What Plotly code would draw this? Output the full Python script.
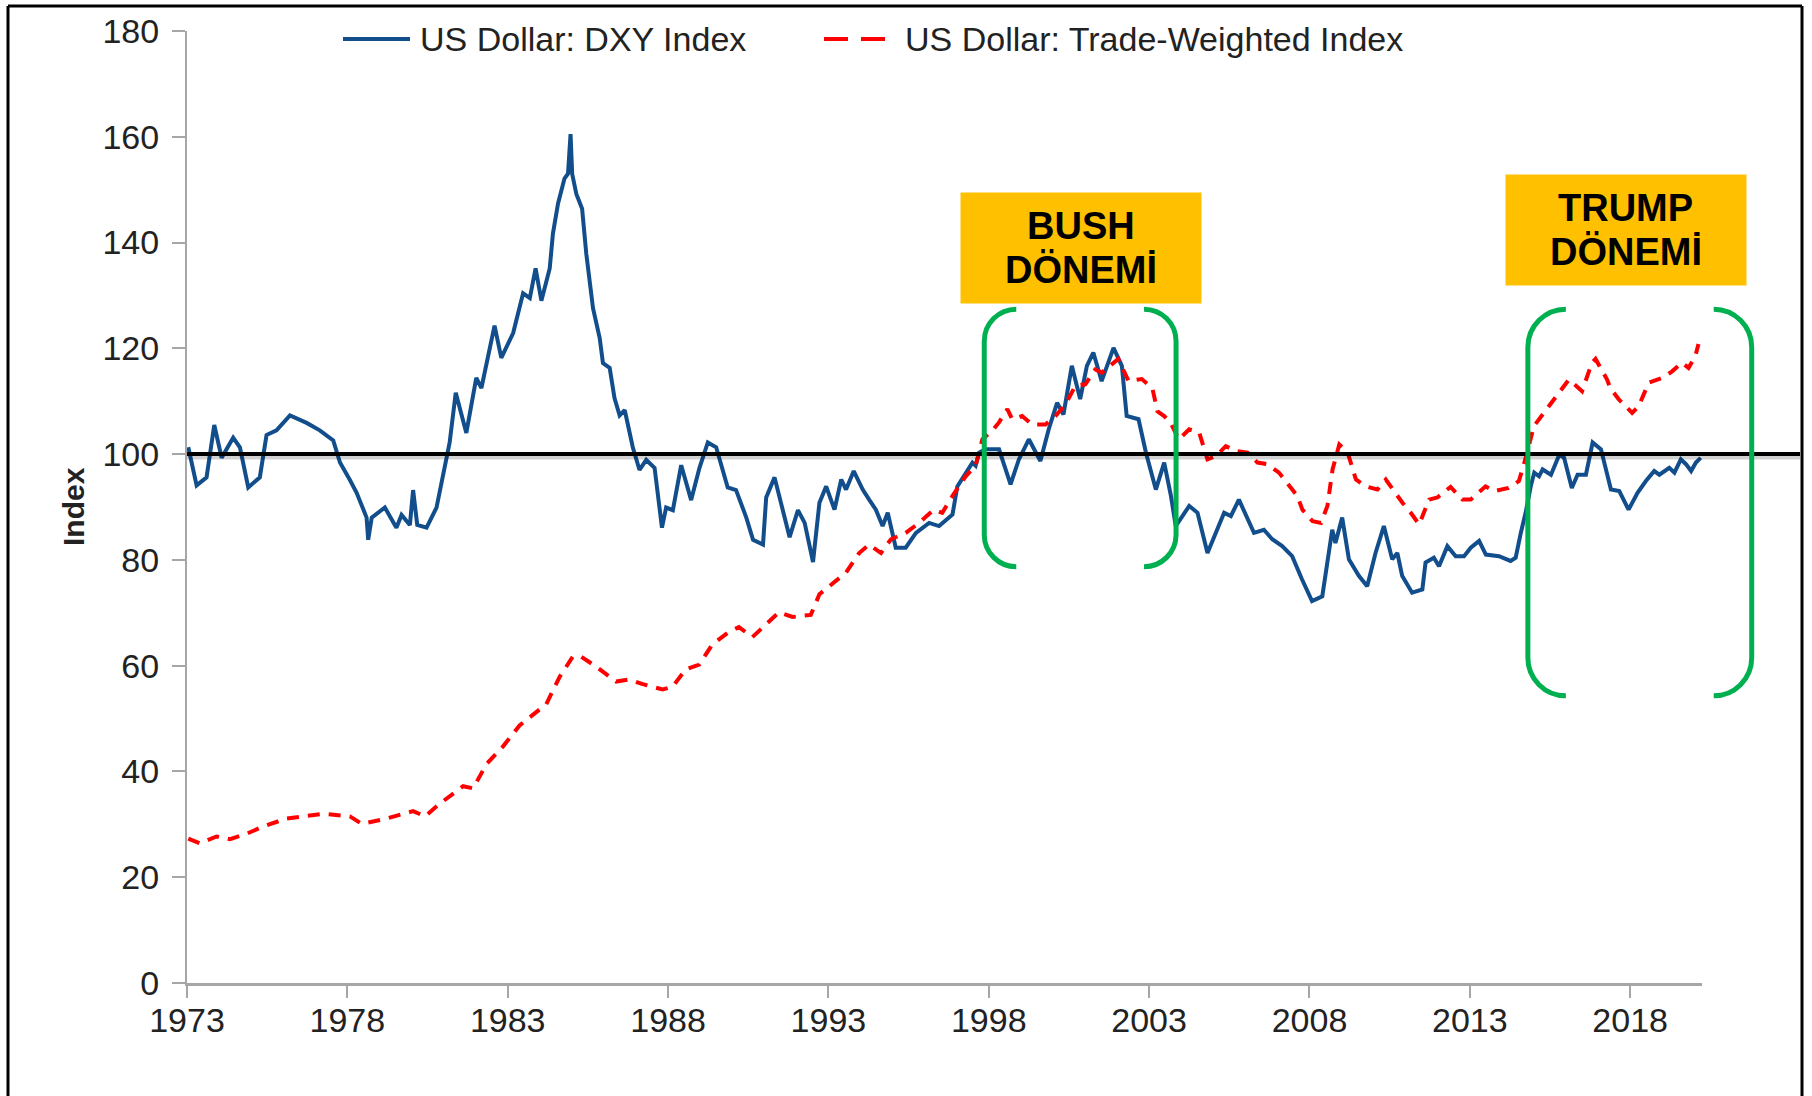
import plotly.graph_objects as go

# ---------------- data ----------------
dxy_years = [
    1973.04, 1973.30, 1973.61, 1973.85, 1974.08, 1974.44, 1974.65, 1974.91, 1975.27, 1975.48,
    1975.79, 1976.21, 1976.73, 1977.14, 1977.56, 1977.77, 1978.08, 1978.29, 1978.60, 1978.65,
    1978.76, 1979.17, 1979.53, 1979.69, 1979.95, 1980.05, 1980.18, 1980.47, 1980.78, 1981.04,
    1981.19, 1981.38, 1981.71, 1982.02, 1982.18, 1982.59, 1982.80, 1983.17, 1983.48, 1983.69,
    1983.87, 1984.05, 1984.31, 1984.41, 1984.57, 1984.77, 1984.88, 1984.96, 1985.01, 1985.14,
    1985.32, 1985.45, 1985.66, 1985.87, 1985.97, 1986.18, 1986.33, 1986.49, 1986.65, 1986.90,
    1987.11, 1987.32, 1987.58, 1987.81, 1987.94, 1988.15, 1988.41, 1988.72, 1988.98, 1989.24,
    1989.50, 1989.86, 1990.12, 1990.44, 1990.65, 1990.96, 1991.06, 1991.32, 1991.53, 1991.79,
    1992.05, 1992.26, 1992.52, 1992.72, 1992.93, 1993.19, 1993.40, 1993.55, 1993.79, 1994.07,
    1994.27, 1994.48, 1994.69, 1994.85, 1995.10, 1995.41, 1995.73, 1996.14, 1996.45, 1996.87,
    1997.02, 1997.28, 1997.49, 1997.59, 1997.70, 1997.90, 1998.32, 1998.68, 1998.94, 1999.25,
    1999.61, 1999.87, 2000.13, 2000.33, 2000.59, 2000.85, 2001.06, 2001.26, 2001.52, 2001.89,
    2002.15, 2002.30, 2002.67, 2002.90, 2003.21, 2003.47, 2003.68, 2003.83, 2004.25, 2004.51,
    2004.82, 2005.34, 2005.55, 2005.80, 2006.27, 2006.58, 2006.84, 2007.15, 2007.46, 2007.77,
    2008.08, 2008.40, 2008.71, 2008.81, 2009.02, 2009.23, 2009.54, 2009.80, 2010.06, 2010.32,
    2010.58, 2010.74, 2010.89, 2011.20, 2011.52, 2011.62, 2011.88, 2012.04, 2012.30, 2012.56,
    2012.82, 2013.03, 2013.29, 2013.50, 2013.91, 2014.27, 2014.43, 2014.59, 2014.74, 2014.90,
    2015.01, 2015.16, 2015.27, 2015.53, 2015.79, 2015.94, 2016.18, 2016.36, 2016.62, 2016.83,
    2017.09, 2017.40, 2017.66, 2017.95, 2018.23, 2018.49, 2018.75, 2018.91, 2019.22, 2019.38,
    2019.58, 2019.74, 2019.90, 2020.05, 2020.20,
]
dxy_values = [
    101.3, 94.1, 95.6, 105.5, 99.3, 103.1, 101.3, 93.7, 95.6, 103.6,
    104.5, 107.3, 105.9, 104.5, 102.6, 98.4, 95.1, 92.7, 88.0, 83.8,
    88.0, 89.9, 86.1, 88.5, 86.6, 93.2, 86.6, 86.1, 89.9, 97.5,
    102.2, 111.6, 104.0, 114.4, 112.5, 124.3, 118.2, 122.9, 130.4, 129.5,
    135.1, 129.0, 135.1, 141.7, 147.4, 152.1, 153.0, 160.5, 153.0, 149.2,
    146.4, 137.9, 127.6, 121.9, 117.2, 116.3, 110.6, 107.3, 108.3, 101.3,
    97.0, 98.9, 97.4, 86.1, 89.9, 89.4, 97.9, 91.3, 97.4, 102.2,
    101.3, 93.7, 93.2, 88.0, 83.8, 82.9, 91.8, 95.6, 90.8, 84.3,
    89.4, 87.0, 79.6, 90.8, 93.9, 89.5, 95.2, 93.3, 96.8, 93.3,
    91.4, 89.5, 86.4, 88.9, 82.3, 82.3, 85.1, 87.0, 86.4, 88.6,
    93.9, 96.5, 98.4, 97.8, 100.3, 100.9, 100.9, 94.3, 99.0, 102.8,
    98.7, 104.7, 109.7, 107.5, 116.7, 110.4, 116.7, 119.2, 113.8, 120.1,
    116.7, 107.2, 106.6, 100.3, 93.3, 98.4, 92.1, 86.4, 90.2, 88.9,
    81.3, 88.9, 88.3, 91.4, 85.1, 85.7, 83.9, 82.6, 80.7, 76.3,
    72.2, 73.1, 85.7, 83.2, 88.0, 80.1, 77.0, 75.0, 81.3, 86.4,
    80.1, 81.3, 77.0, 73.8, 74.4, 79.5, 80.4, 78.8, 82.6, 80.7,
    80.7, 82.3, 83.6, 81.0, 80.7, 79.8, 80.4, 85.1, 88.9, 93.9,
    96.5, 95.8, 97.1, 96.1, 99.9, 99.3, 93.6, 96.1, 96.1, 102.2,
    100.9, 93.3, 93.0, 89.5, 92.7, 94.9, 96.8, 96.1, 97.4, 96.5,
    99.0, 98.1, 96.8, 98.4, 99.3,
]

twi_years = [
    1973.04, 1973.40, 1973.92, 1974.34, 1974.85, 1975.38, 1976.10, 1977.25, 1978.08, 1978.45,
    1979.23, 1980.05, 1980.42, 1980.88, 1981.61, 1981.92, 1982.34, 1982.85, 1983.37, 1983.79,
    1984.20, 1984.62, 1985.03, 1985.29, 1985.76, 1986.38, 1986.79, 1987.21, 1987.83, 1988.14,
    1988.55, 1988.97, 1989.38, 1989.90, 1990.21, 1990.63, 1991.05, 1991.46, 1991.88, 1992.45,
    1992.72, 1993.14, 1993.55, 1993.96, 1994.27, 1994.64, 1994.95, 1995.41, 1995.83, 1996.29,
    1996.55, 1996.87, 1997.28, 1997.59, 1997.80, 1998.11, 1998.32, 1998.58, 1998.73, 1999.04,
    1999.35, 1999.77, 2000.08, 2000.39, 2000.70, 2001.01, 2001.32, 2001.52, 2001.84, 2002.04,
    2002.36, 2002.77, 2003.10, 2003.26, 2003.47, 2003.67, 2003.93, 2004.25, 2004.56, 2004.82,
    2005.08, 2005.39, 2005.70, 2006.07, 2006.38, 2006.69, 2007.05, 2007.31, 2007.62, 2007.78,
    2008.10, 2008.36, 2008.56, 2008.72, 2008.93, 2009.19, 2009.45, 2009.76, 2010.12, 2010.38,
    2010.59, 2010.90, 2011.16, 2011.42, 2011.73, 2011.99, 2012.40, 2012.77, 2013.03, 2013.49,
    2013.75, 2014.21, 2014.53, 2014.73, 2015.00, 2015.31, 2015.57, 2015.88, 2016.09, 2016.50,
    2016.81, 2016.92, 2017.28, 2017.38, 2017.64, 2018.06, 2018.26, 2018.58, 2018.99, 2019.30,
    2019.61, 2019.82, 2020.03, 2020.13,
]
twi_values = [
    27.3, 26.4, 27.7, 27.2, 28.2, 29.6, 31.1, 32.0, 31.5, 30.1,
    31.1, 32.5, 31.5, 33.9, 37.2, 36.8, 41.4, 44.7, 48.7, 50.8,
    52.7, 57.9, 61.7, 61.7, 59.8, 57.0, 57.4, 56.5, 55.5, 56.0,
    59.3, 60.2, 64.0, 66.4, 67.3, 65.4, 67.8, 70.1, 69.2, 69.6,
    73.5, 75.7, 77.6, 81.3, 82.9, 81.3, 83.9, 85.1, 87.0, 89.5,
    88.9, 92.1, 95.8, 97.8, 102.8, 104.4, 106.0, 108.5, 106.6, 107.2,
    105.6, 105.6, 107.2, 109.4, 112.9, 113.2, 116.0, 115.4, 117.0, 118.0,
    113.8, 114.2, 112.5, 108.1, 107.2, 105.9, 102.8, 104.7, 104.1, 99.0,
    99.6, 101.5, 100.6, 100.3, 98.4, 98.1, 96.5, 94.6, 92.1, 89.5,
    87.3, 87.0, 90.2, 97.1, 101.8, 100.3, 95.2, 93.9, 93.3, 95.2,
    93.3, 90.8, 88.9, 86.7, 91.4, 91.8, 93.8, 91.4, 91.4, 93.9,
    93.0, 93.6, 94.9, 99.0, 105.3, 107.8, 109.7, 112.2, 114.1, 111.9,
    117.3, 118.0, 114.1, 112.5, 110.4, 107.8, 109.0, 113.5, 114.4, 115.6,
    117.3, 116.3, 118.5, 120.8,
]

x_tick_years = [1973, 1978, 1983, 1988, 1993, 1998, 2003, 2008, 2013, 2018]
y_tick_values = [0, 20, 40, 60, 80, 100, 120, 140, 160, 180]

series_names = ["US Dollar: DXY Index", "US Dollar: Trade-Weighted Index"]
reference_level = 100
periods = [
    # label lines, bracket start/end year, bracket top/bottom index value
    (("BUSH", "DÖNEMİ"), 1997.86, 2003.84, 127.4, 78.7),
    (("TRUMP", "DÖNEMİ"), 2014.81, 2021.79, 127.4, 54.3),
]
box_centers = [(2000.88, 139.0), (2017.87, 142.4)]

# ---------------- layout geometry ----------------
W, H = 1812, 1096
ML, MR, MT, MB = 187, 110, 31, 113
PW, PH = W - ML - MR, H - MT - MB
X0, X1 = 1973, 2020.24
Y0, Y1 = 0, 180

BLUE = "#124E8C"
RED = "#FF0000"
GREEN = "#00B050"
GOLD = "#FFC000"
TXT = "#222222"
AXIS = "#A6A6A6"
FONT = "Liberation Sans, Arial, sans-serif"


def xp(year):
    return (year - X0) / (X1 - X0)


def yp(v):
    return (v - Y0) / (Y1 - Y0)


fig = go.Figure()
fig.add_trace(go.Scatter(x=dxy_years, y=dxy_values, mode="lines", name=series_names[0],
                         line=dict(color=BLUE, width=4)))
fig.add_trace(go.Scatter(x=twi_years, y=twi_values, mode="lines", name=series_names[1],
                         line=dict(color=RED, width=4, dash="12px,9px")))

shapes = []
# shadow + reference line at 100
shapes.append(dict(type="line", xref="paper", yref="paper", x0=0, x1=(1800 - ML) / PW,
                   y0=yp(reference_level) - 3.5 / PH, y1=yp(reference_level) - 3.5 / PH,
                   line=dict(color="rgba(0,0,0,0.18)", width=4)))
shapes.append(dict(type="line", xref="paper", yref="paper", x0=0, x1=(1800 - ML) / PW,
                   y0=yp(reference_level), y1=yp(reference_level),
                   line=dict(color="black", width=4)))


def bracket(xv, xe, yt, yb, rx_px, ry_px):
    rx = rx_px / PW * (1 if xe > xv else -1)
    ry = ry_px / PH
    k = 0.5523
    return (f"M{xe},{yt} C{xe - k * rx},{yt} {xv},{yt - (1 - k) * ry} {xv},{yt - ry} "
            f"L{xv},{yb + ry} C{xv},{yb + (1 - k) * ry} {xe - k * rx},{yb} {xe},{yb}")


for lines, ys, ye, vt, vb in periods:
    rr = 32 if lines[0] == "BUSH" else 38
    xl, xr = xp(ys), xp(ye)
    shapes.append(dict(type="path", xref="paper", yref="paper",
                       path=bracket(xl, xl + rr / PW, yp(vt), yp(vb), rr, rr),
                       line=dict(color=GREEN, width=5)))
    shapes.append(dict(type="path", xref="paper", yref="paper",
                       path=bracket(xr, xr - rr / PW, yp(vt), yp(vb), rr, rr),
                       line=dict(color=GREEN, width=5)))

# outer frame (bottom edge lies outside the picture)
fx0, fx1 = (8 - ML) / PW, (1802 - ML) / PW
fy1, fy0 = (H - MB - 6) / PH, -0.15
for (a, b, c, d) in [(fx0, fy0, fx0, fy1), (fx0, fy1, fx1, fy1), (fx1, fy1, fx1, fy0)]:
    shapes.append(dict(type="line", xref="paper", yref="paper", x0=a, y0=b, x1=c, y1=d,
                       line=dict(color="black", width=3)))

# manual legend samples
leg_y = (H - MB - 39) / PH
shapes.append(dict(type="line", xref="paper", yref="paper", x0=(343 - ML) / PW, x1=(410 - ML) / PW,
                   y0=leg_y, y1=leg_y, line=dict(color=BLUE, width=4)))
shapes.append(dict(type="line", xref="paper", yref="paper", x0=(824 - ML) / PW, x1=(888 - ML) / PW,
                   y0=leg_y, y1=leg_y, line=dict(color=RED, width=4, dash="24px,13px")))

annotations = [
    dict(text=series_names[0], xref="paper", yref="paper", x=(418 - ML) / PW, y=leg_y,
         xanchor="left", yanchor="middle", showarrow=False, font=dict(size=34, color=TXT)),
    dict(text=series_names[1], xref="paper", yref="paper", x=(903 - ML) / PW, y=leg_y,
         xanchor="left", yanchor="middle", showarrow=False, font=dict(size=34, color=TXT)),
    dict(text="<b>Index</b>", xref="paper", yref="paper", x=(73 - ML) / PW, y=0.5,
         xanchor="center", yanchor="middle", textangle=-90, showarrow=False,
         font=dict(size=30, color=TXT)),
]
for (lines, *_), (bx, by) in zip(periods, box_centers):
    annotations.append(dict(text=" ", xref="x", yref="y", x=bx, y=by,
                            xanchor="center", yanchor="middle", showarrow=False,
                            width=240, height=110, bgcolor=GOLD, borderpad=0,
                            font=dict(size=10)))
    for line_text, shift in zip(lines, (22, -22)):
        annotations.append(dict(text=f"<b>{line_text}</b>", xref="x", yref="y", x=bx, y=by,
                                yshift=shift, xanchor="center", yanchor="middle",
                                showarrow=False,
                                font=dict(size=38, color="black", family=FONT)))

fig.update_layout(
    width=W, height=H, margin=dict(l=ML, r=MR, t=MT, b=MB),
    plot_bgcolor="white", paper_bgcolor="white", showlegend=False,
    font=dict(family=FONT, color=TXT),
    shapes=shapes, annotations=annotations,
    xaxis=dict(range=[X0, X1], tickvals=x_tick_years, ticktext=[str(v) for v in x_tick_years],
               ticks="outside", ticklen=12, tickwidth=2, tickcolor=AXIS,
               showline=True, linecolor=AXIS, linewidth=3, showgrid=False, zeroline=False,
               tickfont=dict(size=34, color=TXT), ticklabelstandoff=-7),
    yaxis=dict(range=[Y0, Y1], tickvals=y_tick_values,
               ticks="outside", ticklen=13, tickwidth=2, tickcolor=AXIS,
               showline=True, linecolor=AXIS, linewidth=2, showgrid=False, zeroline=False,
               tickfont=dict(size=34, color=TXT), ticklabelstandoff=6),
)

fig.write_html("out.html", config={"displayModeBar": False},
               post_script="document.body.style.margin='0px';")
